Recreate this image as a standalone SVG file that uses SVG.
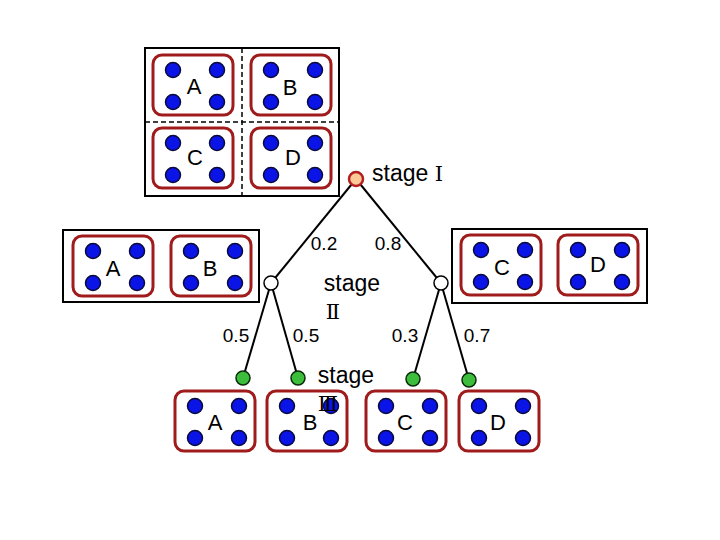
<svg xmlns="http://www.w3.org/2000/svg" xmlns:xlink="http://www.w3.org/1999/xlink" width="720" height="540" viewBox="0 0 720 540">
<style>
.frame{fill:none;stroke:#000;stroke-width:2}
.dash{stroke:#000;stroke-width:1.5;stroke-dasharray:5 3}
.cellbox{fill:#fff;stroke:#a01c1c;stroke-width:3}
.dot{fill:#0a14e6;stroke:#0a0a3c;stroke-width:1.5}
.lbl{font-family:"Liberation Sans",Arial,sans-serif;font-size:22px;fill:#000;text-anchor:middle}
.stg{font-family:"Liberation Sans",Arial,sans-serif;font-size:23px;fill:#000}
.num{font-family:"Liberation Sans",Arial,sans-serif;font-size:19px;fill:#000;text-anchor:middle}
.rom{font-family:"DejaVu Serif","Liberation Serif",serif;font-size:21px;fill:#000}
.edge{stroke:#000;stroke-width:2;fill:none}
.n1{fill:#fbc896;stroke:#b41e1e;stroke-width:2.5}
.n2{fill:#fff;stroke:#000;stroke-width:1.5}
.n3{fill:#3cbe3c;stroke:#0a2a0a;stroke-width:1.5}
</style>
<defs>
<g id="cell">
<rect class="cellbox" x="0" y="0" width="80" height="60" rx="9"/>
<circle class="dot" cx="20" cy="15" r="7.5"/>
<circle class="dot" cx="64" cy="15" r="7.5"/>
<circle class="dot" cx="20" cy="47" r="7.5"/>
<circle class="dot" cx="64" cy="47" r="7.5"/>
</g>
</defs>
<rect width="720" height="540" fill="#fff"/>

<g id="stage1-set">
<rect class="frame" x="145" y="48" width="194" height="148"/>
<line class="dash" x1="242" y1="48" x2="242" y2="196"/>
<line class="dash" x1="145" y1="122" x2="339" y2="122"/>
</g>
<g id="top-A"><use xlink:href="#cell" x="153" y="55"/><text class="lbl" x="194" y="94">A</text></g>
<g id="top-B"><use xlink:href="#cell" x="251" y="55"/><text class="lbl" x="290" y="95">B</text></g>
<g id="top-C"><use xlink:href="#cell" x="153" y="128"/><text class="lbl" x="195" y="165">C</text></g>
<g id="top-D"><use xlink:href="#cell" x="251" y="128"/><text class="lbl" x="293" y="165">D</text></g>

<g id="left-set"><rect class="frame" x="63" y="230" width="196" height="72"/></g>
<g id="left-A"><use xlink:href="#cell" x="73" y="236"/><text class="lbl" x="113" y="276">A</text></g>
<g id="left-B"><use xlink:href="#cell" x="171" y="236"/><text class="lbl" x="210" y="276">B</text></g>

<g id="right-set"><rect class="frame" x="452" y="229" width="195" height="74"/></g>
<g id="right-C"><use xlink:href="#cell" x="461" y="235"/><text class="lbl" x="502" y="275">C</text></g>
<g id="right-D"><use xlink:href="#cell" x="558" y="235"/><text class="lbl" x="598" y="272">D</text></g>

<g id="bottom-A"><use xlink:href="#cell" x="175" y="391"/><text class="lbl" x="215" y="430">A</text></g>
<g id="bottom-B"><use xlink:href="#cell" x="267" y="391"/><text class="lbl" x="310" y="430">B</text></g>
<g id="bottom-C"><use xlink:href="#cell" x="366" y="391"/><text class="lbl" x="405" y="430">C</text></g>
<g id="bottom-D"><use xlink:href="#cell" x="459" y="391"/><text class="lbl" x="498" y="430">D</text></g>

<g id="connectors">
<line class="edge" x1="356" y1="179" x2="271" y2="283"/>
<line class="edge" x1="356" y1="179" x2="441" y2="283"/>
<line class="edge" x1="271" y1="283" x2="243" y2="378"/>
<line class="edge" x1="271" y1="283" x2="298" y2="378"/>
<line class="edge" x1="441" y1="283" x2="413" y2="379"/>
<line class="edge" x1="441" y1="283" x2="469" y2="380"/>
<text class="num" x="324" y="250">0.2</text>
<text class="num" x="388" y="250">0.8</text>
<text class="num" x="236" y="342">0.5</text>
<text class="num" x="306" y="342">0.5</text>
<text class="num" x="405" y="342">0.3</text>
<text class="num" x="477" y="342">0.7</text>
</g>

<g id="node-stage1">
<circle class="n1" cx="356" cy="179" r="7"/>
<text class="stg" x="372" y="181">stage <tspan class="rom">Ⅰ</tspan></text>
</g>
<g id="node-stage2-left"><circle class="n2" cx="271" cy="283" r="7"/></g>
<g id="node-stage2-right"><circle class="n2" cx="441" cy="283" r="7"/></g>
<g id="stage2-label">
<text class="stg" x="352" y="291" text-anchor="middle">stage</text>
<text class="rom" x="333" y="319" text-anchor="middle">Ⅱ</text>
</g>
<g id="node-s3-1"><circle class="n3" cx="243" cy="378" r="7"/></g>
<g id="node-s3-2"><circle class="n3" cx="298" cy="378" r="7"/></g>
<g id="node-s3-3"><circle class="n3" cx="413" cy="379" r="7"/></g>
<g id="node-s3-4"><circle class="n3" cx="469" cy="380" r="7"/></g>
<g id="stage3-label">
<text class="stg" x="346" y="383" text-anchor="middle">stage</text>
<text class="rom" x="328" y="411" text-anchor="middle">Ⅲ</text>
</g>
</svg>
